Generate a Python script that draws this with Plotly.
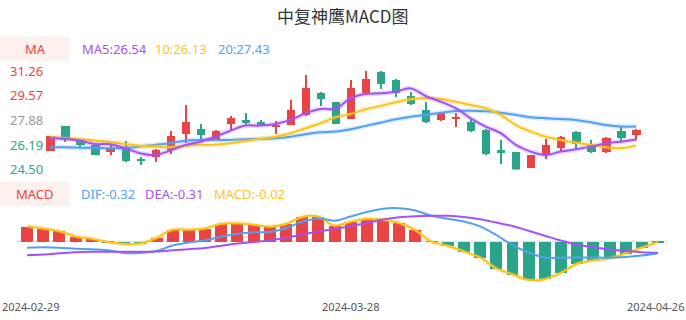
import plotly.graph_objects as go

W, H = 686, 320

dates = ["2024-02-29", "2024-03-01", "2024-03-04", "2024-03-05", "2024-03-06", "2024-03-07", "2024-03-08",
         "2024-03-11", "2024-03-12", "2024-03-13", "2024-03-14", "2024-03-15",
         "2024-03-18", "2024-03-19", "2024-03-20", "2024-03-21", "2024-03-22",
         "2024-03-25", "2024-03-26", "2024-03-27", "2024-03-28", "2024-03-29",
         "2024-04-01", "2024-04-02", "2024-04-03",
         "2024-04-08", "2024-04-09", "2024-04-10", "2024-04-11", "2024-04-12",
         "2024-04-15", "2024-04-16", "2024-04-17", "2024-04-18", "2024-04-19",
         "2024-04-22", "2024-04-23", "2024-04-24", "2024-04-25", "2024-04-26"]

open_ = [25.81, 27.48, 26.52, 26.18, 25.74, 26.02, 25.24, 25.38, 25.83, 26.93,
         27.27, 26.52, 27.63, 27.91, 27.80, 27.45, 27.59, 28.28, 29.75, 29.12,
         28.00, 29.75, 31.19, 30.67, 29.57, 28.62, 27.91, 28.02, 27.75, 27.25,
         25.83, 25.68, 24.65, 25.54, 25.97, 27.09, 26.22, 25.68, 27.15, 26.86]
close = [26.81, 26.70, 26.22, 25.54, 25.95, 25.10, 25.13, 25.88, 26.79, 27.80,
         26.86, 27.18, 28.04, 27.70, 27.52, 27.52, 28.57, 30.07, 29.37, 27.66,
         30.12, 30.74, 30.35, 29.75, 28.98, 27.77, 28.38, 28.10, 27.13, 25.58,
         25.61, 24.50, 25.49, 26.18, 26.77, 26.24, 25.68, 26.68, 26.70, 27.25]
high = [26.84, 27.50, 26.58, 26.20, 26.18, 26.45, 25.36, 25.95, 27.18, 28.96,
        27.61, 27.22, 28.16, 28.41, 27.90, 27.82, 29.25, 30.96, 29.80, 29.15,
        30.62, 31.26, 31.24, 30.70, 29.85, 29.12, 28.40, 28.38, 28.00, 27.28,
        26.52, 25.70, 25.52, 26.59, 26.80, 27.12, 26.52, 26.72, 27.52, 27.30]
low = [25.79, 26.40, 26.02, 25.50, 25.54, 25.05, 24.83, 25.03, 25.56, 26.33,
       26.52, 26.48, 27.15, 27.52, 27.48, 26.93, 27.55, 28.16, 28.89, 27.62,
       27.95, 29.70, 30.03, 29.48, 28.95, 27.72, 27.85, 27.43, 27.10, 25.52,
       24.90, 24.50, 24.62, 25.20, 25.72, 25.88, 25.65, 25.62, 26.47, 26.52]

ma5 = [26.63, 26.59, 26.47, 26.24, 26.22, 25.95, 25.61, 25.49, 25.79, 26.18,
       26.40, 26.74, 27.15, 27.50, 27.50, 27.61, 27.89, 28.34, 28.64, 28.66,
       29.37, 29.66, 29.71, 29.82, 30.05, 29.53, 29.14, 28.69, 28.00, 27.43,
       26.98, 26.18, 25.72, 25.49, 25.72, 25.88, 26.06, 26.29, 26.40, 26.54]
ma10 = [26.74, 26.63, 26.57, 26.47, 26.38, 26.24, 26.11, 26.06, 26.02, 26.11,
        26.18, 26.18, 26.29, 26.45, 26.59, 26.74, 26.98, 27.32, 27.66, 28.07,
        28.30, 28.62, 28.84, 29.10, 29.30, 29.37, 29.32, 29.14, 28.91, 28.69,
        28.23, 27.54, 27.09, 26.74, 26.52, 26.33, 26.18, 26.02, 25.95, 26.13]
ma20 = [26.02, 26.02, 25.99, 25.97, 25.95, 25.97, 26.06, 26.18, 26.29, 26.47,
        26.52, 26.52, 26.52, 26.57, 26.59, 26.63, 26.74, 26.91, 27.04, 27.09,
        27.25, 27.48, 27.70, 27.93, 28.11, 28.23, 28.38, 28.50, 28.52, 28.48,
        28.38, 28.23, 28.07, 28.00, 27.95, 27.89, 27.73, 27.54, 27.43, 27.43]

dif = [-0.17, -0.16, -0.17, -0.20, -0.21, -0.24, -0.31, -0.31, -0.26, -0.11,
       -0.03, 0.03, 0.12, 0.20, 0.24, 0.25, 0.35, 0.52, 0.61, 0.55,
       0.66, 0.78, 0.87, 0.88, 0.82, 0.68, 0.60, 0.53, 0.40, 0.17,
       -0.10, -0.30, -0.43, -0.44, -0.43, -0.43, -0.44, -0.42, -0.38, -0.32]
dea = [-0.37, -0.35, -0.32, -0.29, -0.28, -0.28, -0.28, -0.28, -0.27, -0.24,
       -0.21, -0.18, -0.12, -0.06, -0.02, 0.03, 0.09, 0.18, 0.26, 0.33,
       0.41, 0.49, 0.58, 0.64, 0.67, 0.68, 0.68, 0.65, 0.59, 0.50,
       0.41, 0.28, 0.15, 0.02, -0.09, -0.16, -0.22, -0.26, -0.29, -0.31]
macd = [0.40, 0.34, 0.27, 0.13, 0.07, -0.02, -0.07, -0.06, 0.09, 0.31,
        0.31, 0.34, 0.47, 0.48, 0.44, 0.39, 0.46, 0.65, 0.66, 0.42,
        0.52, 0.60, 0.58, 0.49, 0.30, -0.01, -0.12, -0.27, -0.43, -0.72,
        -0.88, -1.03, -1.01, -0.84, -0.60, -0.51, -0.45, -0.32, -0.17, -0.02]

price_ticks = [24.50, 26.19, 27.88, 29.57, 31.26]
date_ticks = [0, 20, 39]
title = "中复神鹰MACD图"

RED = "#ea4343"
GREEN = "#2ba58a"
PURPLE = "#a452f3"
YELLOW = "#fcc41a"
BLUE = "#52a0f2"
FONT = "Noto Sans, Noto Sans CJK SC, sans-serif"

n = len(dates)
xs = list(range(n))
ccol = [RED if c >= o else GREEN for o, c in zip(open_, close)]
body_base = [min(o, c) for o, c in zip(open_, close)]
body_h = [max(abs(c - o), 0.05) for o, c in zip(open_, close)]
wick_h = [h - l for h, l in zip(high, low)]

fig = go.Figure()

# wicks
fig.add_trace(go.Bar(x=xs, y=wick_h, base=low, width=0.08, marker=dict(color=ccol, line_width=0),
                     xaxis="x", yaxis="y", hoverinfo="skip"))
# bodies
fig.add_trace(go.Bar(x=xs, y=body_h, base=body_base, width=0.55, marker=dict(color=ccol, line_width=0),
                     xaxis="x", yaxis="y"))

for ser, col in [(ma20, BLUE), (ma10, YELLOW), (ma5, PURPLE)]:
    fig.add_trace(go.Scatter(x=xs, y=ser, mode="lines", line=dict(color=col, width=5, shape="spline"),
                             opacity=0.2, xaxis="x", yaxis="y", hoverinfo="skip"))
    fig.add_trace(go.Scatter(x=xs, y=ser, mode="lines", line=dict(color=col, width=2, shape="spline"),
                             xaxis="x", yaxis="y"))

mcol = [RED if v >= 0 else GREEN for v in macd]
fig.add_trace(go.Bar(x=xs, y=macd, width=0.74, marker=dict(color=mcol, line_width=0),
                     xaxis="x2", yaxis="y2"))
fig.add_trace(go.Scatter(x=xs, y=macd, mode="lines", line=dict(color=YELLOW, width=4, shape="spline"),
                         opacity=0.25, xaxis="x2", yaxis="y2", hoverinfo="skip"))
fig.add_trace(go.Scatter(x=xs, y=macd, mode="lines", line=dict(color=YELLOW, width=2, shape="spline"),
                         xaxis="x2", yaxis="y2"))
fig.add_trace(go.Scatter(x=xs, y=dif, mode="lines", line=dict(color=BLUE, width=2, shape="spline"),
                         xaxis="x2", yaxis="y2"))
fig.add_trace(go.Scatter(x=xs, y=dea, mode="lines", line=dict(color=PURPLE, width=2, shape="spline"),
                         xaxis="x2", yaxis="y2"))

def px_x(p):
    return p / W

def px_y(p):
    return 1 - p / H

annotations = []
annotations.append(dict(text=title, x=0.5, y=px_y(15), xref="paper", yref="paper", showarrow=False,
                        font=dict(size=17, color="#333333", family="Noto Sans CJK SC, sans-serif"),
                        xanchor="center", yanchor="middle"))

mid = price_ticks[2]
for v in price_ticks:
    col = RED if v > mid else ("#999999" if v == mid else GREEN)
    annotations.append(dict(text=f"{v:.2f}", x=px_x(8), y=v, xref="paper", yref="y", showarrow=False,
                            xanchor="left", yanchor="middle", font=dict(size=13, color=col, family=FONT)))

shapes = [
    dict(type="rect", xref="paper", yref="paper", x0=0, x1=px_x(70), y0=px_y(61), y1=px_y(37),
         fillcolor="#fdf1ed", line_width=0, layer="below"),
    dict(type="rect", xref="paper", yref="paper", x0=0, x1=px_x(70), y0=px_y(206), y1=px_y(182),
         fillcolor="#fdf1ed", line_width=0, layer="below"),
    dict(type="line", xref="paper", yref="y2", x0=px_x(16), x1=px_x(668), y0=0, y1=0,
         line=dict(color="#dddddd", width=1), layer="below"),
]
annotations.append(dict(text="MA", x=px_x(35), y=px_y(49), xref="paper", yref="paper", showarrow=False,
                        xanchor="center", yanchor="middle", font=dict(size=13, color=RED, family=FONT)))
annotations.append(dict(text="MACD", x=px_x(35), y=px_y(194), xref="paper", yref="paper", showarrow=False,
                        xanchor="center", yanchor="middle", font=dict(size=13, color=RED, family=FONT)))

legend_ma = [(f"MA5:{ma5[-1]:.2f}", PURPLE, 80), (f"10:{ma10[-1]:.2f}", YELLOW, 153),
             (f"20:{ma20[-1]:.2f}", BLUE, 216)]
for t, c, xp in legend_ma:
    annotations.append(dict(text=t, x=px_x(xp), y=px_y(49), xref="paper", yref="paper", showarrow=False,
                            xanchor="left", yanchor="middle", font=dict(size=13, color=c, family=FONT)))
legend_macd = [(f"DIF:{dif[-1]:.2f}", BLUE, 79), (f"DEA:{dea[-1]:.2f}", PURPLE, 143),
               (f"MACD:{macd[-1]:.2f}", YELLOW, 212)]
for t, c, xp in legend_macd:
    annotations.append(dict(text=t, x=px_x(xp), y=px_y(194), xref="paper", yref="paper", showarrow=False,
                            xanchor="left", yanchor="middle", font=dict(size=13, color=c, family=FONT)))

date_anchor = ["left", "center", "right"]
for i, anc in zip(date_ticks, date_anchor):
    if anc == "left":
        xa, xr = 0.0, "paper"
    elif anc == "right":
        xa, xr = 1.0, "paper"
    else:
        xa, xr = i, "x2"
    annotations.append(dict(text=dates[i], x=xa, y=px_y(306), xref=xr, yref="paper", showarrow=False,
                            xanchor=anc, yanchor="middle", font=dict(size=11, color="#555555", family=FONT)))

fig.update_layout(
    width=W, height=H, margin=dict(l=0, r=0, t=0, b=0),
    paper_bgcolor="white", plot_bgcolor="white",
    showlegend=False, barmode="overlay", bargap=0,
    xaxis=dict(domain=[42.5 / W, 643.5 / W], range=[-0.5, n - 0.5], visible=False, fixedrange=True),
    yaxis=dict(domain=[px_y(169.4), px_y(70.7)], range=[price_ticks[0], price_ticks[-1]], visible=False),
    xaxis2=dict(domain=[18.9 / W, 666.1 / W], range=[-0.5, n - 0.5], visible=False, anchor="y2"),
    yaxis2=dict(domain=[px_y(282.55), px_y(203.8)], range=[-1.1, 1.0], visible=False, anchor="x2"),
    annotations=annotations, shapes=shapes,
)

fig.write_html("out.html")
